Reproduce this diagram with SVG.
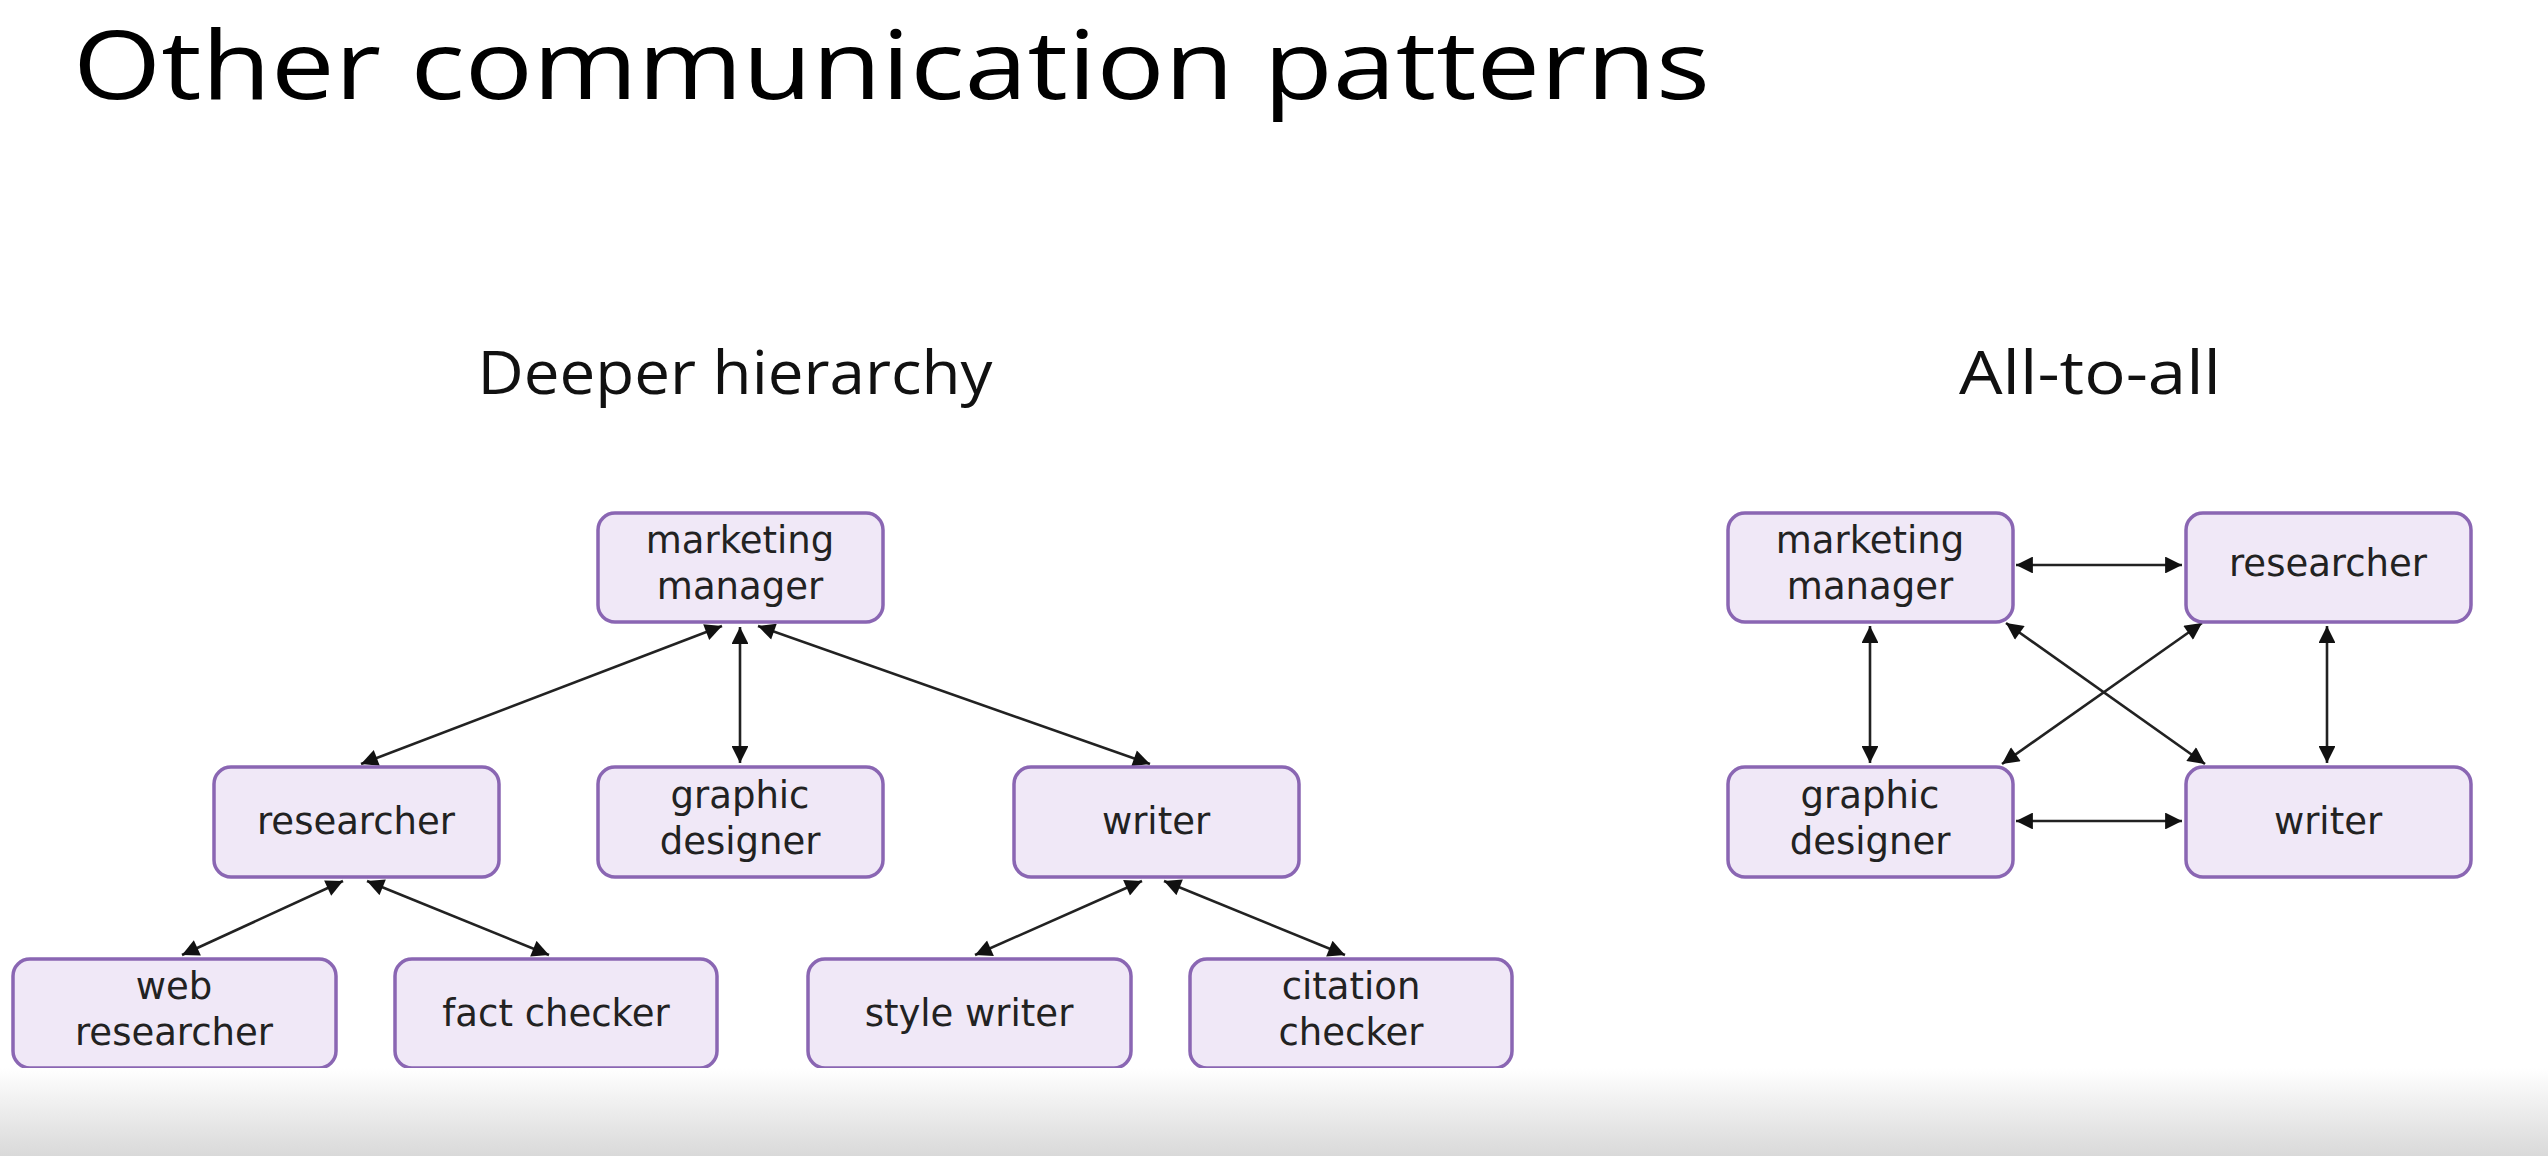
<svg xmlns="http://www.w3.org/2000/svg" width="2548" height="1156" viewBox="0 0 2548 1156">
<style>
.t{font-family:"Open Sans","Liberation Sans",sans-serif;fill:#000}
.h{font-family:"Open Sans","Liberation Sans",sans-serif;font-size:60px;fill:#111;text-anchor:middle}
.box{fill:#f0e8f7;stroke:#8a66b3;stroke-width:3.5}
.lbl{font-family:"DejaVu Sans","Open Sans",sans-serif;font-size:37px;fill:#222;text-anchor:middle}
.c{stroke:#222;stroke-width:2.6;fill:none;marker-start:url(#ah);marker-end:url(#ah)}
</style>
<defs>
<marker id="ah" viewBox="0 0 10 10" refX="10" refY="5" markerWidth="7" markerHeight="6.5" markerUnits="strokeWidth" orient="auto-start-reverse">
<path d="M0,0 L10,5 L0,10 z" fill="#111"/>
</marker>
<linearGradient id="fade" x1="0" y1="0" x2="0" y2="1">
<stop offset="0" stop-color="#ffffff"/>
<stop offset="1" stop-color="#d9d9d9"/>
</linearGradient>
</defs>
<rect width="2548" height="1156" fill="#fff"/>
<text class="t" x="73" y="99" font-size="96" textLength="1637" lengthAdjust="spacingAndGlyphs">Other communication patterns</text>
<text class="h" x="735" y="394" textLength="515" lengthAdjust="spacingAndGlyphs">Deeper hierarchy</text>
<text class="h" x="2090" y="394" textLength="262" lengthAdjust="spacingAndGlyphs">All-to-all</text>

<g id="connectors">
<line class="c" x1="722" y1="626" x2="361" y2="764"/>
<line class="c" x1="740" y1="627" x2="740" y2="763"/>
<line class="c" x1="758" y1="626" x2="1150" y2="764"/>
<line class="c" x1="343" y1="881" x2="182" y2="955"/>
<line class="c" x1="367" y1="881" x2="549" y2="955"/>
<line class="c" x1="1142" y1="881" x2="975" y2="955"/>
<line class="c" x1="1164" y1="881" x2="1345" y2="955"/>
<line class="c" x1="2016" y1="565" x2="2182" y2="565"/>
<line class="c" x1="2016" y1="821" x2="2182" y2="821"/>
<line class="c" x1="1870" y1="626" x2="1870" y2="763"/>
<line class="c" x1="2327" y1="626" x2="2327" y2="763"/>
<line class="c" x1="2006" y1="623" x2="2205" y2="764"/>
<line class="c" x1="2202" y1="623" x2="2002" y2="764"/>
</g>

<g id="h-manager"><rect class="box" x="598" y="513" width="285" height="109" rx="17"/><text class="lbl" x="740" y="553">marketing<tspan x="740" dy="46">manager</tspan></text></g>
<g id="h-researcher"><rect class="box" x="214" y="767" width="285" height="110" rx="17"/><text class="lbl" x="356" y="834">researcher</text></g>
<g id="h-designer"><rect class="box" x="598" y="767" width="285" height="110" rx="17"/><text class="lbl" x="740" y="808">graphic<tspan x="740" dy="46">designer</tspan></text></g>
<g id="h-writer"><rect class="box" x="1014" y="767" width="285" height="110" rx="17"/><text class="lbl" x="1156" y="834">writer</text></g>
<g id="h-web"><rect class="box" x="13" y="959" width="323" height="109" rx="17"/><text class="lbl" x="174" y="999">web<tspan x="174" dy="46">researcher</tspan></text></g>
<g id="h-fact"><rect class="box" x="395" y="959" width="322" height="109" rx="17"/><text class="lbl" x="556" y="1026">fact checker</text></g>
<g id="h-style"><rect class="box" x="808" y="959" width="323" height="109" rx="17"/><text class="lbl" x="969" y="1026">style writer</text></g>
<g id="h-citation"><rect class="box" x="1190" y="959" width="322" height="109" rx="17"/><text class="lbl" x="1351" y="999">citation<tspan x="1351" dy="46">checker</tspan></text></g>

<g id="a-manager"><rect class="box" x="1728" y="513" width="285" height="109" rx="17"/><text class="lbl" x="1870" y="553">marketing<tspan x="1870" dy="46">manager</tspan></text></g>
<g id="a-researcher"><rect class="box" x="2186" y="513" width="285" height="109" rx="17"/><text class="lbl" x="2328" y="576">researcher</text></g>
<g id="a-designer"><rect class="box" x="1728" y="767" width="285" height="110" rx="17"/><text class="lbl" x="1870" y="808">graphic<tspan x="1870" dy="46">designer</tspan></text></g>
<g id="a-writer"><rect class="box" x="2186" y="767" width="285" height="110" rx="17"/><text class="lbl" x="2328" y="834">writer</text></g>

<rect x="0" y="1068" width="2548" height="88" fill="url(#fade)"/>
</svg>
